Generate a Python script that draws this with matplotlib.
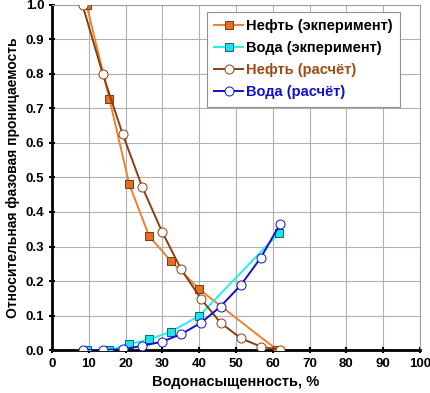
import matplotlib
matplotlib.use("Agg")
from matplotlib import pyplot as plt

# oil, experiment
oil_exp_x = [9.4, 15.6, 21.0, 26.4, 32.3, 40.0, 61.2]
oil_exp_y = [1.0, 0.728, 0.48, 0.33, 0.258, 0.176, 0.0]
# water, experiment
wat_exp_x = [9.6, 15.6, 21.0, 26.4, 32.3, 40.0, 61.6]
wat_exp_y = [0.0, 0.0, 0.017, 0.031, 0.053, 0.099, 0.338]
# oil, calculated
oil_calc_x = [8.3, 13.8, 19.2, 24.5, 29.9, 35.1, 40.5, 45.8, 51.3, 56.7, 62.0]
oil_calc_y = [1.0, 0.80, 0.626, 0.473, 0.343, 0.234, 0.148, 0.079, 0.034, 0.010, 0.0]
# water, calculated
wat_calc_x = [8.3, 13.8, 19.2, 24.5, 29.9, 35.1, 40.5, 45.8, 51.3, 56.7, 62.0]
wat_calc_y = [0.0, 0.0, 0.002, 0.012, 0.024, 0.046, 0.079, 0.126, 0.188, 0.267, 0.365]

plt.rcParams['font.family'] = ['Liberation Sans', 'DejaVu Sans']
plt.rcParams['font.weight'] = 'bold'

fig = plt.figure(figsize=(4.31, 3.93), dpi=100)
ax = fig.add_axes([0.1206, 0.1094, 0.8539, 0.8779])

ax.plot(oil_exp_x, oil_exp_y, color="#f0802c", lw=1.4, marker="s", ms=6,
        mfc="#e07025", mec="#7a3a10", mew=0.7, label="Нефть (экперимент)", zorder=3)
ax.plot(wat_exp_x, wat_exp_y, color="#20f0f0", lw=1.4, marker="s", ms=6,
        mfc="#20e0e8", mec="#106070", mew=0.7, label="Вода (экперимент)", zorder=3)
ax.plot(oil_calc_x, oil_calc_y, color="#8b3e12", lw=1.4, marker="o", ms=6.5,
        mfc="white", mec="#8b3e12", mew=0.7, label="Нефть (расчёт)", zorder=4)
ax.plot(wat_calc_x, wat_calc_y, color="#1010d0", lw=1.4, marker="o", ms=6.5,
        mfc="white", mec="#1010d0", mew=0.7, label="Вода (расчёт)", zorder=4)

ax.set_xlim(0, 100)
ax.set_ylim(0, 1.0)
ax.set_xticks(range(0, 101, 10))
ax.set_yticks([i / 10 for i in range(11)])
ax.set_yticklabels([f"{i / 10:.1f}" for i in range(11)])
ax.grid(True, color="#b0b0b0", lw=0.8)
ax.set_axisbelow(True)

for s in ["top", "right"]:
    ax.spines[s].set_color("#a0a0a0")
    ax.spines[s].set_linewidth(0.8)
for s in ["left", "bottom"]:
    ax.spines[s].set_color("black")
    ax.spines[s].set_linewidth(2)
ax.tick_params(direction="inout", length=5, width=1.5, labelsize=9.5, pad=3)

ax.set_xlabel("Водонасыщенность, %", fontsize=10.5, fontweight="bold", labelpad=4)
ax.set_ylabel("Относительная фазовая проницаемость", fontsize=10, fontweight="bold", labelpad=4)

leg = ax.legend(loc="upper right", bbox_to_anchor=(0.946, 0.98), borderaxespad=0,
                fancybox=False, framealpha=1, edgecolor="#909090", fontsize=10.5,
                handlelength=2.0, borderpad=0.5, labelspacing=0.55, handletextpad=0.2)
leg.get_frame().set_linewidth(0.8)
text_colors = ["black", "black", "#a04a15", "#1010d0"]
for t, c in zip(leg.get_texts(), text_colors):
    t.set_color(c)

fig.savefig("out.png", dpi=100)
